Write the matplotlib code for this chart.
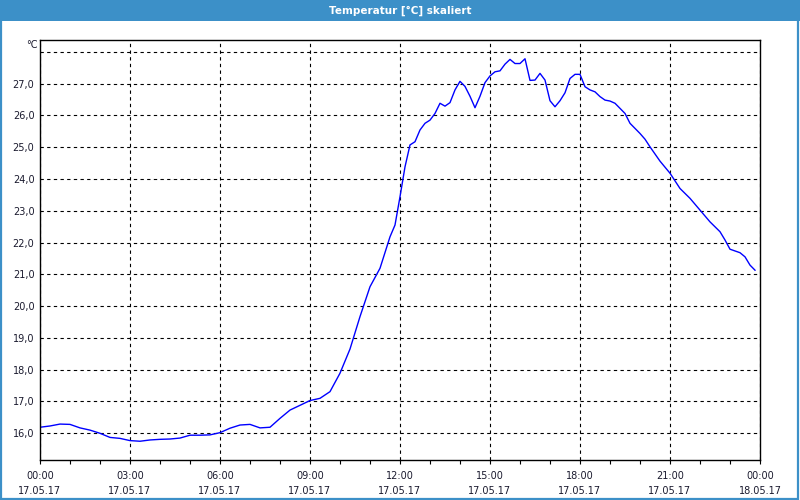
import matplotlib
matplotlib.use("Agg")
import matplotlib.pyplot as plt
from matplotlib.patches import Rectangle
from matplotlib.ticker import FixedLocator, MultipleLocator

# Data: minutes since 17.05.17 00:00 and temperature [°C]
minutes = [0, 20, 40, 60, 80, 100, 120, 140, 160, 180, 200, 220, 240, 260, 280, 300,
           320, 340, 360, 380, 400, 420, 440, 460, 480, 500, 520, 540, 560, 580, 600,
           620, 640, 660, 680, 700, 710, 720, 730, 740, 750, 760, 770, 780, 790, 800,
           810, 820, 830, 840, 850, 860, 870, 880, 890, 900, 910, 920, 930, 940, 950,
           960, 970, 980, 990, 1000, 1010, 1020, 1030, 1040, 1050, 1060, 1070, 1080,
           1090, 1100, 1110, 1120, 1130, 1140, 1150, 1160, 1170, 1180, 1190, 1200,
           1210, 1220, 1240, 1260, 1280, 1300, 1320, 1340, 1360, 1370, 1380, 1400,
           1410, 1420, 1430]
temps = [16.19, 16.23, 16.29, 16.28, 16.17, 16.10, 16.00, 15.87, 15.84, 15.77, 15.75,
         15.79, 15.81, 15.82, 15.85, 15.94, 15.94, 15.95, 16.02, 16.16, 16.26, 16.28,
         16.17, 16.19, 16.47, 16.73, 16.88, 17.03, 17.10, 17.31, 17.89, 18.65, 19.67,
         20.61, 21.19, 22.18, 22.55, 23.44, 24.38, 25.07, 25.17, 25.54, 25.75, 25.85,
         26.06, 26.38, 26.29, 26.40, 26.80, 27.07, 26.91, 26.60, 26.24, 26.60, 27.03,
         27.24, 27.37, 27.40, 27.61, 27.76, 27.63, 27.63, 27.78, 27.10, 27.11, 27.32,
         27.11, 26.46, 26.27, 26.46, 26.71, 27.16, 27.29, 27.29, 26.90, 26.80, 26.74,
         26.59, 26.48, 26.45, 26.38, 26.22, 26.06, 25.75, 25.59, 25.43, 25.25, 25.01,
         24.56, 24.18, 23.70, 23.39, 23.02, 22.65, 22.34, 22.08, 21.79, 21.68, 21.55,
         21.29, 21.13]

x_tick_minutes = [0, 180, 360, 540, 720, 900, 1080, 1260, 1440]
x_tick_times = ["00:00", "03:00", "06:00", "09:00", "12:00", "15:00", "18:00", "21:00", "00:00"]
x_tick_dates = ["17.05.17"] * 8 + ["18.05.17"]
y_ticks = [16, 17, 18, 19, 20, 21, 22, 23, 24, 25, 26, 27, 28]
y_tick_labels = ["16,0", "17,0", "18,0", "19,0", "20,0", "21,0", "22,0", "23,0",
                 "24,0", "25,0", "26,0", "27,0", ""]
title = "Temperatur [°C] skaliert"
unit = "°C"

plt.rcParams['font.family'] = ['DejaVu Sans']
fig = plt.figure(figsize=(8, 5), dpi=100)
fig.patch.set_facecolor("white")

blue = "#3c90c8"
text_col = "#1a1a2e"
# title bar
fig.patches.append(Rectangle((0, 0.958), 1, 0.042, transform=fig.transFigure,
                             facecolor=blue, edgecolor="none", zorder=0))
# border
fig.patches.append(Rectangle((0.001, 0.002), 0.996, 0.997, transform=fig.transFigure,
                             facecolor="none", edgecolor=blue, linewidth=1.6, zorder=0))
fig.text(0.5, 0.979, title, color="white", fontsize=7.5, fontweight="bold",
         ha="center", va="center")

ax = fig.add_axes([0.05, 0.08, 0.90, 0.84])
ax.plot(minutes, temps, color="#0000ff", linewidth=1.0)

ax.set_xlim(0, 1440)
ax.set_ylim(15.16, 28.37)

ax.xaxis.set_major_locator(FixedLocator(x_tick_minutes))
ax.xaxis.set_minor_locator(MultipleLocator(60))
ax.set_xticklabels([f"{t}\n{d}" for t, d in zip(x_tick_times, x_tick_dates)],
                   fontsize=7, linespacing=1.6, color=text_col)
ax.yaxis.set_major_locator(FixedLocator(y_ticks))
ax.set_yticklabels(y_tick_labels, fontsize=7, color=text_col)

ax.tick_params(axis="x", which="both", direction="out", length=3, width=0.8,
               pad=5, colors="black", labelcolor=text_col)
ax.tick_params(axis="y", which="both", length=0, pad=4)
ax.grid(True, which="major", color="black", linestyle=(0, (3, 3)), linewidth=0.8)

for s in ax.spines.values():
    s.set_linewidth(1.0)
    s.set_color("black")

ax.text(-0.003, 0.988, unit, transform=ax.transAxes, ha="right", va="center",
        fontsize=7, color=text_col)

fig.savefig("out.png", dpi=100)
